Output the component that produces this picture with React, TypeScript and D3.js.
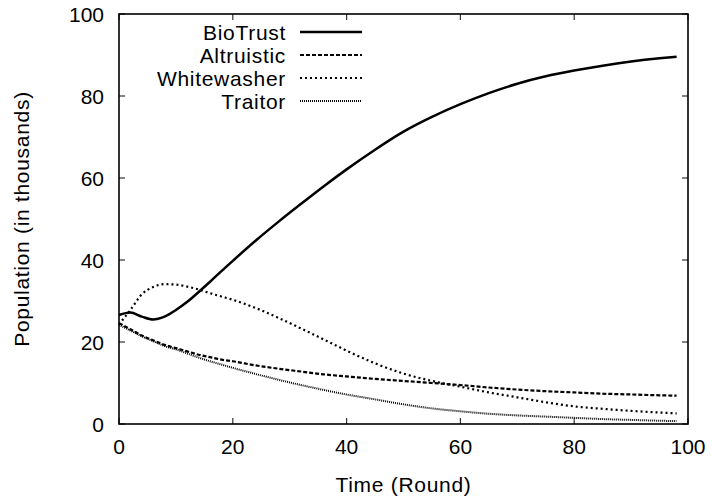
import * as d3 from "d3";

const rounds = [0, 2, 4, 6, 8, 10, 12, 14, 16, 18, 20, 24, 28, 32, 36, 40, 45, 50, 55, 60, 65, 70, 75, 80, 85, 90, 95, 98];

const bioTrust = [26.6, 27.2, 26.2, 25.5, 26.2, 27.8, 29.8, 32.2, 34.7, 37.3, 39.8, 44.7, 49.3, 53.7, 58.0, 62.1, 66.9, 71.3, 74.9, 78.0, 80.7, 83.0, 84.8, 86.2, 87.4, 88.4, 89.2, 89.6];
const altruistic = [24.6, 23.1, 21.6, 20.4, 19.3, 18.5, 17.7, 16.9, 16.3, 15.7, 15.3, 14.3, 13.5, 12.8, 12.1, 11.6, 11.0, 10.5, 10.0, 9.5, 8.9, 8.4, 8.0, 7.7, 7.4, 7.2, 7.0, 6.9];
const whitewasher = [24.3, 27.8, 31.6, 33.4, 34.1, 34.0, 33.5, 32.8, 31.9, 31.1, 30.3, 28.3, 25.9, 23.3, 20.6, 17.9, 14.8, 12.3, 10.5, 9.1, 7.7, 6.5, 5.3, 4.3, 3.7, 3.2, 2.8, 2.6];
const traitor = [24.2, 22.8, 21.4, 20.2, 19.0, 18.2, 17.2, 16.2, 15.3, 14.5, 13.7, 12.2, 10.8, 9.5, 8.3, 7.2, 6.0, 4.8, 3.8, 3.1, 2.5, 2.1, 1.8, 1.5, 1.2, 1.0, 0.8, 0.7];

const seriesNames = ["BioTrust", "Altruistic", "Whitewasher", "Traitor"];
const xTicks = [0, 20, 40, 60, 80, 100];
const yTicks = [0, 20, 40, 60, 80, 100];

const dashes = [null, "4,2", "2,3", "1,1"];
const widths = [2.5, 2.2, 2.2, 2];

export default function App() {
    const width = 712;
    const height = 502;
    const margin = { top: 14, right: 24, bottom: 78, left: 119 };

    const x = d3.scaleLinear().domain([0, 100]).range([margin.left, width - margin.right]);
    const y = d3.scaleLinear().domain([0, 100]).range([height - margin.bottom, margin.top]);

    const line = d3
        .line<number>()
        .x((d, i) => x(rounds[i]))
        .y(d => y(d))
        .curve(d3.curveMonotoneX);

    const all = [bioTrust, altruistic, whitewasher, traitor];
    const font = "'Liberation Sans', Arial, Helvetica, sans-serif";
    const x0 = x(0), x1 = x(100), y0 = y(0), y1 = y(100);
    const tick = 6;

    return (
        <div style={{ position: "fixed", left: 0, top: 0 }}>
            <svg width={width} height={height} style={{ display: "block", background: "#fff" }} fontFamily={font}>
                {/* ticks, mirrored on all sides */}
                <g stroke="#333" strokeWidth={1.2}>
                    {xTicks.map(t => (
                        <g key={"xt" + t}>
                            <line x1={x(t)} x2={x(t)} y1={y0} y2={y0 - tick} />
                            <line x1={x(t)} x2={x(t)} y1={y1} y2={y1 + tick} />
                        </g>
                    ))}
                    {yTicks.map(t => (
                        <g key={"yt" + t}>
                            <line x1={x0} x2={x0 + tick} y1={y(t)} y2={y(t)} />
                            <line x1={x1} x2={x1 - tick} y1={y(t)} y2={y(t)} />
                        </g>
                    ))}
                </g>

                {xTicks.map(t => (
                    <text key={"xl" + t} x={x(t)} y={y0 + 30} fontSize={21} textAnchor="middle" fill="#000">
                        {t}
                    </text>
                ))}
                {yTicks.map(t => (
                    <text key={"yl" + t} x={x0 - 15} y={y(t) + 7.5} fontSize={21} textAnchor="end" fill="#000">
                        {t}
                    </text>
                ))}

                <text x={(x0 + x1) / 2} y={492} fontSize={21} letterSpacing={0.7} textAnchor="middle" fill="#000">
                    Time (Round)
                </text>
                <text
                    transform={`translate(29,${(y0 + y1) / 2}) rotate(-90)`}
                    fontSize={21}
                    letterSpacing={0.7}
                    textAnchor="middle"
                    fill="#000"
                >
                    Population (in thousands)
                </text>

                {/* series */}
                {all.map((vals, i) => (
                    <path
                        key={seriesNames[i]}
                        d={line(vals) || ""}
                        fill="none"
                        stroke="#000"
                        strokeWidth={widths[i]}
                        strokeDasharray={dashes[i] || undefined}
                    />
                ))}

                {/* legend */}
                {seriesNames.map((name, i) => {
                    const ly = 32 + i * 23;
                    return (
                        <g key={"lg" + name}>
                            <text x={286} y={ly + 7.5} fontSize={21} letterSpacing={0.7} textAnchor="end" fill="#000">
                                {name}
                            </text>
                            <line
                                x1={300}
                                x2={362}
                                y1={ly}
                                y2={ly}
                                stroke="#000"
                                strokeWidth={widths[i]}
                                strokeDasharray={dashes[i] || undefined}
                            />
                        </g>
                    );
                })}

                <rect x={x0} y={y1} width={x1 - x0} height={y0 - y1} fill="none" stroke="#000" strokeWidth={1.6} />
            </svg>
        </div>
    );
}
